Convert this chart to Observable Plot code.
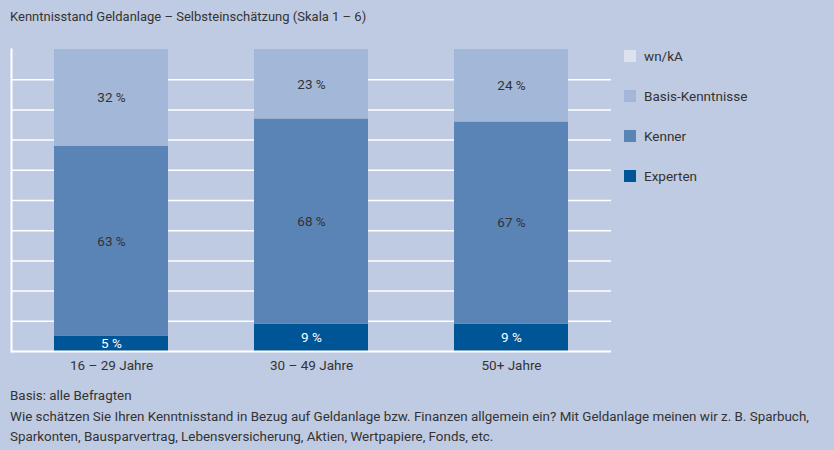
<!DOCTYPE html>
<html>
<head>
<meta charset="utf-8">
<script src="https://cdn.jsdelivr.net/npm/d3@7"></script>
<script src="https://cdn.jsdelivr.net/npm/@observablehq/plot@0.6"></script>
<style>
  html, body { margin: 0; padding: 0; }
  body { width: 834px; height: 450px; background: #bfcbe3; position: relative; overflow: hidden;
         font-family: Roboto, sans-serif; color: #333; }
  #title { position: absolute; left: 10px; top: 9px; font-size: 13px; white-space: nowrap; }
  #chart { position: absolute; left: 0; top: 30px; }
  #legend { position: absolute; left: 624px; top: 44px; font-size: 13.5px; }
  .item { height: 40px; display: flex; align-items: flex-start; }
  .sw { width: 12px; height: 12px; margin-right: 8px; margin-top: 6px; }
  .lab { line-height: 24px; }
  #footer { position: absolute; left: 10px; top: 386px; font-size: 13.4px; line-height: 20.5px; white-space: nowrap; }
</style>
</head>
<body>
<div id="title">Kenntnisstand Geldanlage – Selbsteinschätzung (Skala 1 – 6)</div>
<div id="chart"></div>
<div id="legend"></div>
<div id="footer">Basis: alle Befragten<br>Wie schätzen Sie Ihren Kenntnisstand in Bezug auf Geldanlage bzw. Finanzen allgemein ein? Mit Geldanlage meinen wir z. B. Sparbuch,<br>Sparkonten, Bausparvertrag, Lebensversicherung, Aktien, Wertpapiere, Fonds, etc.</div>
<script>
const categories = ["16 – 29 Jahre", "30 – 49 Jahre", "50+ Jahre"];
const series = ["Experten", "Kenner", "Basis-Kenntnisse", "wn/kA"];
const experten = [5, 9, 9];
const kenner = [63, 68, 67];
const basis = [32, 23, 24];
const wnka = [0, 0, 0];
const colors = ["#005596", "#5a83b6", "#a3b7d8", "#dce3ef"];
const gridTicks = [10, 20, 30, 40, 50, 60, 70, 80, 90];

const valuesBySeries = [experten, kenner, basis, wnka];
const data = [];
series.forEach((s, si) => categories.forEach((c, ci) => data.push({cat: c, series: s, value: valuesBySeries[si][ci]})));

const font = "Roboto, sans-serif";

const stackOpts = {x: "cat", y: "value", fill: "series", order: series};

const chart = Plot.plot({
  width: 834,
  height: 350,
  marginTop: 19,
  marginBottom: 29,
  marginLeft: 11,
  marginRight: 223,
  style: {fontFamily: font, fontSize: "13.5px", color: "#333", background: "transparent"},
  x: {domain: categories, paddingInner: 0.43, paddingOuter: 0.215, label: null, tickSize: 0, tickPadding: 9},
  y: {domain: [0, 100], axis: null},
  color: {domain: series, range: colors},
  marks: [
    Plot.ruleY(gridTicks, {stroke: "white", strokeWidth: 1.5}),
    Plot.barY(data.filter(d => d.value > 0), Plot.stackY({...stackOpts})),
    Plot.text(data.filter(d => d.value > 0), Plot.stackY({...stackOpts,
      fill: d => d.series === "Experten" ? "white" : "#333",
      text: d => d.value + " %", fontSize: 13.5})),
    Plot.ruleY([0], {stroke: "white", strokeWidth: 2}),
    Plot.frame({anchor: "left", stroke: "white", strokeWidth: 2})
  ]
});
document.getElementById("chart").appendChild(chart);

const legend = document.getElementById("legend");
["wn/kA", "Basis-Kenntnisse", "Kenner", "Experten"].forEach(s => {
  const item = document.createElement("div");
  item.className = "item";
  const sw = document.createElement("div");
  sw.className = "sw";
  sw.style.background = colors[series.indexOf(s)];
  const lab = document.createElement("div");
  lab.className = "lab";
  lab.textContent = s;
  item.appendChild(sw); item.appendChild(lab);
  legend.appendChild(item);
});
</script>
</body>
</html>
